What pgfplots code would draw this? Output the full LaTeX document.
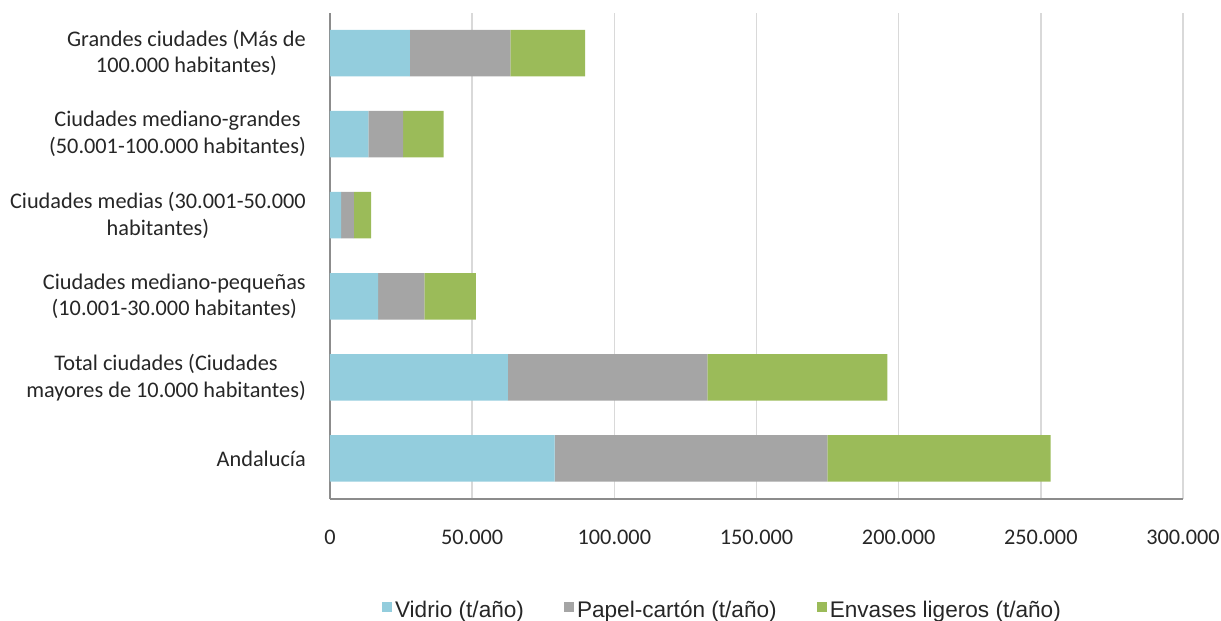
\documentclass[border=0pt]{standalone}
\usepackage{fontspec}
\setmainfont{Carlito}
\newfontfamily\arialfont{Liberation Sans}
\usepackage{pgfplots}
\pgfplotsset{compat=1.18}
\definecolor{cvid}{HTML}{93CDDD}
\definecolor{cpap}{HTML}{A5A5A5}
\definecolor{cenv}{HTML}{9BBB59}
\definecolor{cgrid}{HTML}{D9D9D9}
\definecolor{caxis}{HTML}{8C8C8C}
\definecolor{ctext}{HTML}{262626}
\begin{document}
\begin{tikzpicture}
\useasboundingbox (-330pt,-122pt) rectangle (891pt,499pt);
\begin{axis}[
  at={(0pt,0pt)}, anchor=south west,
  scale only axis, width=853pt, height=486.5pt,
  xbar stacked, bar width=46.5pt,
  xmin=0, xmax=300000, ymin=-0.5, ymax=5.5,
  xtick={0,50000,100000,150000,200000,250000,300000},
  scaled x ticks=false,
  /pgf/number format/.cd, fixed, 1000 sep={.}, assume math mode=true, /pgfplots/.cd,
  ytick={0,1,2,3,4,5},
  yticklabels={Andalucía,
    {Total ciudades (Ciudades\\mayores de 10.000 habitantes)},
    {Ciudades mediano-pequeñas\\(10.001-30.000 habitantes)},
    {Ciudades medias (30.001-50.000\\habitantes)},
    {Ciudades mediano-grandes\\(50.001-100.000 habitantes)},
    {Grandes ciudades (Más de\\100.000 habitantes)}},
  major tick length=0pt,
  xmajorgrids, major grid style={draw=cgrid, line width=1.5pt},
  axis x line*=bottom, axis y line*=left,
  axis line style={draw=caxis, line width=1.5pt, -},
  yticklabel style={align=center, anchor=east, inner sep=0pt, xshift=-24pt,
    font=\fontsize{22.3}{26.7}\selectfont, text=ctext},
  xticklabel style={anchor=north, inner sep=0pt, yshift=-31pt,
    font=\fontsize{22.3}{26}\selectfont, text=ctext},
  legend columns=3,
  legend style={at={(0.4607,-0.2280)}, anchor=center, draw=none, fill=none,
    font=\fontsize{22.6}{26}\arialfont, text=ctext,
    nodes={inner xsep=3pt, inner ysep=0pt},
    /tikz/every even column/.append style={column sep=37pt}},
  legend image code/.code={\fill[#1] (0pt,-2pt) rectangle (10pt,8pt);},
]
\addplot[fill=cvid, draw=none] coordinates {(79000,0) (62600,1) (16900,2) (3900,3) (13500,4) (28100,5)};
\addplot[fill=cpap, draw=none] coordinates {(95900,0) (70100,1) (16300,2) (4500,3) (12200,4) (35300,5)};
\addplot[fill=cenv, draw=none] coordinates {(78500,0) (63300,1) (18100,2) (6100,3) (14300,4) (26300,5)};
\legend{Vidrio (t/año), Papel-cartón (t/año), Envases ligeros (t/año)}
\end{axis}
\end{tikzpicture}
\end{document}
